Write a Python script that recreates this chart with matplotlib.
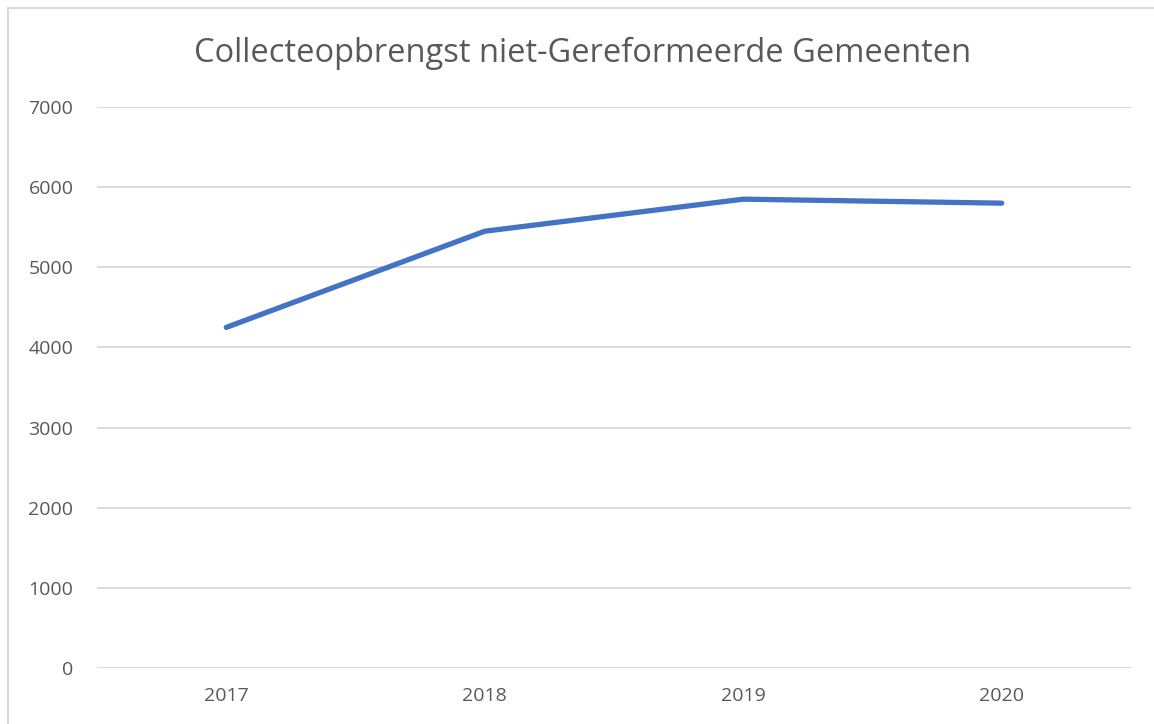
import matplotlib
matplotlib.use("Agg")
import matplotlib.pyplot as plt
from matplotlib.patches import Rectangle

years = ["2017", "2018", "2019", "2020"]
opbrengst = [4250, 5450, 5850, 5800]
yticks = [0, 1000, 2000, 3000, 4000, 5000, 6000, 7000]

W, H = 1154, 724
fig = plt.figure(figsize=(W / 100, H / 100), dpi=100)
plt.rcParams["font.family"] = "Open Sans"

# plot area in pixels: x 97..1131, y 107..668
ax = fig.add_axes([97 / W, (H - 668) / H, (1131 - 97) / W, (668 - 107) / H])
x = range(len(years))
ax.plot(x, opbrengst, color="#4472C4", linewidth=3.8, solid_capstyle="round", zorder=3)

ax.set_xlim(-0.5, len(years) - 0.5)
ax.set_ylim(0, 7000)
ax.set_xticks(list(x))
ax.set_xticklabels(years)
ax.set_yticks(yticks)
ax.set_yticklabels([str(v) for v in yticks])
ax.tick_params(length=0, labelsize=14, colors="#595959")
ax.tick_params(axis="y", pad=17)
ax.tick_params(axis="x", pad=14)
ax.yaxis.grid(True, color="#D9D9D9", linewidth=1.4)
ax.set_axisbelow(True)
for s in ax.spines.values():
    s.set_visible(False)

fig.text(583 / W, 1 - 53 / H, "Collecteopbrengst niet-Gereformeerde Gemeenten",
         ha="center", va="center", fontsize=23.5, color="#595959")

# outer chart border (right and bottom edges fall outside the image)
fig.patches.append(Rectangle((8 / W, -0.01), (1160 - 8) / W, (H - 8) / H + 0.01,
                             transform=fig.transFigure, fill=False,
                             edgecolor="#D9D9D9", linewidth=1.5))

fig.savefig("out.png", dpi=100)
